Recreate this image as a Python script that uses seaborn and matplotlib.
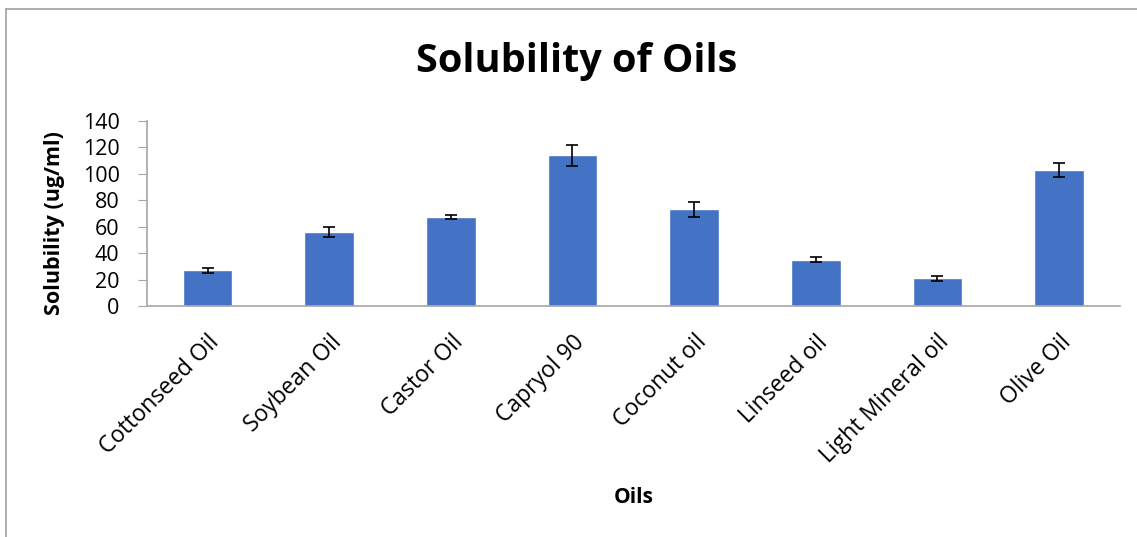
import seaborn as sns
import pandas as pd
import matplotlib.pyplot as plt
from matplotlib.lines import Line2D

oils = ["Cottonseed Oil", "Soybean Oil", "Castor Oil", "Capryol 90",
        "Coconut oil", "Linseed oil", "Light Mineral oil", "Olive Oil"]
solubility = [27, 56, 67, 114, 73, 35, 21, 103]
sd = [2, 4, 1.5, 8, 6, 2, 2, 5.5]

df = pd.DataFrame({"Oil": oils, "Solubility": solubility, "SD": sd})

sns.set_style("white")
plt.rcParams['font.family'] = ['Open Sans', 'DejaVu Sans']
plt.rcParams['text.color'] = 'black'
plt.rcParams['axes.labelcolor'] = 'black'

fig = plt.figure(figsize=(11.37, 5.37), dpi=100)
ax = fig.add_axes([0.129, 0.430, 0.856, 0.345])

sns.barplot(data=df, x="Oil", y="Solubility", color="#4472C4",
            width=0.41, errorbar=None, ax=ax, saturation=1)
ax.errorbar(range(len(oils)), df["Solubility"], yerr=df["SD"], fmt="none",
            ecolor="black", elinewidth=1.2, capsize=4.5, capthick=1.2)

ax.set_ylim(0, 140)
ax.set_yticks(range(0, 141, 20))
ax.set_xlim(-0.5, len(oils) - 0.5)
for s in ["top", "right"]:
    ax.spines[s].set_visible(False)
for s in ["left", "bottom"]:
    ax.spines[s].set_color("#A6A6A6")
    ax.spines[s].set_linewidth(1.2)
ax.tick_params(axis="y", left=True, length=6.5, color="#A6A6A6",
               labelcolor="black", labelsize=15.5, pad=13)
ax.tick_params(axis="x", bottom=False, labelcolor="black", labelsize=16.5, pad=14)
plt.setp(ax.get_xticklabels(), rotation=45, ha="right", rotation_mode="anchor")

ax.set_xlabel("Oils", fontsize=15, fontweight="bold")
ax.set_ylabel("Solubility (ug/ml)", fontsize=15.5, fontweight="bold")
ax.xaxis.set_label_coords(0.5, -0.975)
ax.yaxis.set_label_coords(-0.084, 0.45)
fig.text(0.507, 0.885, "Solubility of Oils", ha="center", va="center",
         fontsize=28.5, fontweight="bold")

# outer chart border
fig.add_artist(Line2D([6 / 1137, 1.0], [1 - 9 / 537, 1 - 9 / 537],
                      color="#A0A0A0", lw=1.2, transform=fig.transFigure))
fig.add_artist(Line2D([6 / 1137, 6 / 1137], [0, 1 - 9 / 537],
                      color="#A0A0A0", lw=1.2, transform=fig.transFigure))

plt.savefig("out.png", dpi=100, facecolor="w")
